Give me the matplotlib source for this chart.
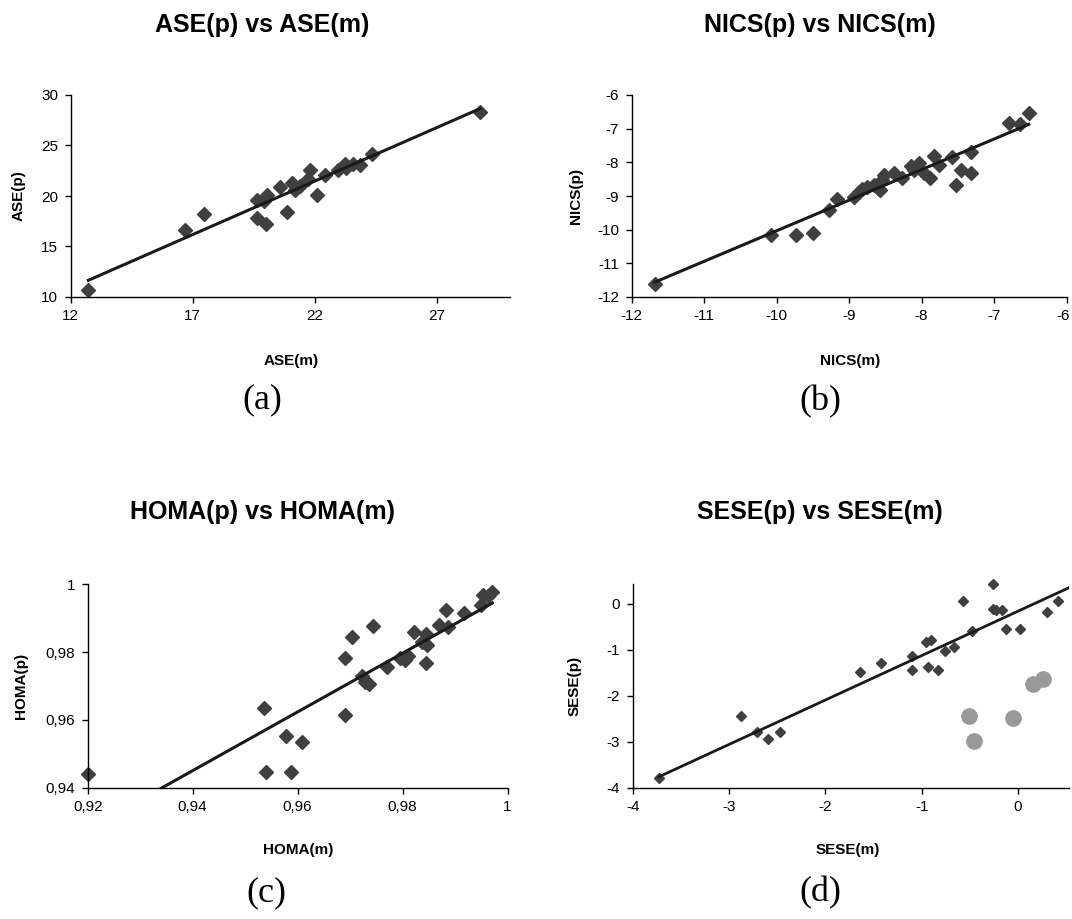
import numpy as np
import matplotlib
matplotlib.use('Agg')
import matplotlib.pyplot as plt
from matplotlib.transforms import ScaledTranslation

plt.rcParams['font.family'] = ['Liberation Sans', 'DejaVu Sans']
plt.rcParams['axes.unicode_minus'] = False

# ---------------- data ----------------
ase_m = [12.72, 16.69, 17.48, 19.62, 19.65, 19.99, 20.03, 19.90, 20.58, 20.85, 21.06, 21.19,
         21.40, 21.81, 21.74, 22.08, 22.42, 22.97, 23.24, 23.30, 23.58, 23.86, 24.34, 28.78]
ase_p = [10.73, 16.61, 18.20, 19.59, 17.83, 17.27, 20.08, 19.50, 20.90, 18.43, 21.24, 20.60,
         21.00, 22.56, 21.70, 20.08, 22.07, 22.56, 23.20, 22.80, 23.20, 23.06, 24.20, 28.35]

nics_m = [-11.68, -10.08, -9.73, -9.50, -9.28, -9.16, -8.93, -8.86, -8.82, -8.75, -8.66, -8.59,
          -8.57, -8.54, -8.52, -8.38, -8.27, -8.15, -8.10, -8.04, -7.97, -7.88, -7.83, -7.76,
          -7.58, -7.53, -7.46, -7.32, -7.32, -6.80, -6.64, -6.52]
nics_p = [-11.60, -10.17, -10.17, -10.10, -9.42, -9.10, -9.03, -8.88, -8.78, -8.73, -8.68, -8.78,
          -8.83, -8.53, -8.38, -8.31, -8.48, -8.11, -8.23, -8.01, -8.33, -8.48, -7.82, -8.08,
          -7.84, -8.68, -8.23, -8.33, -7.69, -6.84, -6.86, -6.53]

homa_m = [0.9200, 0.9535, 0.9540, 0.9578, 0.9587, 0.9609, 0.9691, 0.9691, 0.9704, 0.9723,
          0.9728, 0.9736, 0.9743, 0.9770, 0.9795, 0.9804, 0.9811, 0.9822, 0.9836, 0.9844,
          0.9847, 0.9844, 0.9869, 0.9882, 0.9887, 0.9917, 0.9950, 0.9954, 0.9963, 0.9971]
homa_p = [0.9440, 0.9635, 0.9446, 0.9553, 0.9446, 0.9533, 0.9781, 0.9614, 0.9843, 0.9729,
          0.9712, 0.9705, 0.9878, 0.9755, 0.9781, 0.9776, 0.9788, 0.9860, 0.9830, 0.9853,
          0.9821, 0.9768, 0.9880, 0.9925, 0.9875, 0.9914, 0.9939, 0.9968, 0.9964, 0.9978]

sese_m = [-3.73, -2.875, -2.706, -2.592, -2.47, -1.64, -1.425, -1.097, -1.097, -0.954, -0.906,
          -0.93, -0.833, -0.757, -0.664, -0.573, -0.48, -0.262, -0.256, -0.228, -0.162, -0.124,
          0.021, 0.305, 0.42]
sese_p = [-3.80, -2.445, -2.796, -2.94, -2.796, -1.496, -1.29, -1.146, -1.438, -0.839, -0.788,
          -1.387, -1.438, -1.036, -0.934, 0.058, -0.584, 0.416, -0.11, -0.146, -0.146, -0.547,
          -0.547, -0.18, 0.058]
sese_out_m = [-0.505, -0.453, -0.054, 0.16, 0.264]
sese_out_p = [-2.445, -2.99, -2.48, -1.75, -1.64]

# trend lines (slope, intercept)
trend_a = (1.059, -1.82)
trend_b = (0.9086, -0.948)
trend_c = (0.867, 0.130)
trend_d = (0.965, -0.165)

# ticks
ticks_a_x = [12, 17, 22, 27]
ticks_a_y = [10, 15, 20, 25, 30]
ticks_b = [-12, -11, -10, -9, -8, -7, -6]
ticks_c_x = [0.92, 0.94, 0.96, 0.98, 1.0]
labels_c_x = ['0,92', '0,94', '0,96', '0,98', '1']
ticks_c_y = [0.94, 0.96, 0.98, 1.0]
labels_c_y = ['0,94', '0,96', '0,98', '1']
ticks_d = [-4, -3, -2, -1, 0]

titles = ['ASE(p) vs ASE(m)', 'NICS(p) vs NICS(m)', 'HOMA(p) vs HOMA(m)', 'SESE(p) vs SESE(m)']
xlabels = ['ASE(m)', 'NICS(m)', 'HOMA(m)', 'SESE(m)']
ylabels = ['ASE(p)', 'NICS(p)', 'HOMA(p)', 'SESE(p)']
panel_tags = ['(a)', '(b)', '(c)', '(d)']

# ---------------- layout ----------------
W, H = 1072, 919
fig = plt.figure(figsize=(W / 100, H / 100), dpi=100)
fig.patch.set_facecolor('white')


def rect(l, r, t, b):
    return [l / W, 1 - b / H, (r - l) / W, (b - t) / H]


def fx(x):
    return x / W


def fy(y):
    return 1 - y / H


MK = '#404040'
LN = '#1a1a1a'


def style(ax):
    for s in ['top', 'right']:
        ax.spines[s].set_visible(False)
    for s in ['left', 'bottom']:
        ax.spines[s].set_color('black')
        ax.spines[s].set_linewidth(1.0)
    ax.tick_params(direction='out', length=4, width=1, labelsize=11, pad=5, colors='black')
    ax.patch.set_alpha(0)


# (a)
axa = fig.add_axes(rect(70.7, 510, 95, 297))
axa.set_xlim(12, 30)
axa.set_ylim(10, 30)
axa.set_xticks(ticks_a_x)
axa.set_yticks(ticks_a_y)
axa.plot(ase_m, ase_p, 'D', color=MK, ms=7.5, mec=MK, clip_on=False, zorder=2)
xa = np.array([min(ase_m), max(ase_m)])
axa.plot(xa, np.polyval(trend_a, xa), color=LN, lw=2.2, zorder=3)
style(axa)

# (b)
axb = fig.add_axes(rect(631.5, 1066.5, 95, 297))
axb.set_xlim(-12, -6)
axb.set_ylim(-12, -6)
axb.set_xticks(ticks_b)
axb.set_yticks(ticks_b)
axb.plot(nics_m, nics_p, 'D', color=MK, ms=7.5, mec=MK, clip_on=False, zorder=2)
xb = np.array([min(nics_m), max(nics_m)])
axb.plot(xb, np.polyval(trend_b, xb), color=LN, lw=2.2, zorder=3)
style(axb)
fig.canvas.draw()
last = axb.get_xticklabels()[-1]
last.set_transform(last.get_transform() + ScaledTranslation(-3 / 100, 0, fig.dpi_scale_trans))

# (c)
axc = fig.add_axes(rect(87.7, 507.6, 584.3, 787.5))
axc.set_xlim(0.92, 1.0)
axc.set_ylim(0.94, 1.0)
axc.set_xticks(ticks_c_x)
axc.set_xticklabels(labels_c_x)
axc.set_yticks(ticks_c_y)
axc.set_yticklabels(labels_c_y)
axc.plot(homa_m, homa_p, 'D', color=MK, ms=7.5, mec=MK, clip_on=False, zorder=2)
xc = np.linspace(min(homa_m), max(homa_m), 50)
axc.plot(xc, np.polyval(trend_c, xc), color=LN, lw=2.2, zorder=3)
style(axc)

# (d)
axd = fig.add_axes(rect(632.7, 1069, 584.3, 787.7))
axd.set_xlim(-4, 0.53)
axd.set_ylim(-4, 0.42)
axd.set_xticks(ticks_d)
axd.set_yticks(ticks_d)
axd.plot(sese_out_m, sese_out_p, 'o', color='#999999', ms=11, mec='#999999', clip_on=False, zorder=2)
axd.plot(sese_m, sese_p, 'D', color=MK, ms=5.2, mec=MK, clip_on=False, zorder=2)
xd = np.array([min(sese_m), 0.53])
axd.plot(xd, np.polyval(trend_d, xd), color=LN, lw=2.0, zorder=3)
style(axd)

# ---------------- texts ----------------
title_pos = [(262, 25), (820, 25), (263, 512), (820, 512)]
xlabel_pos = [(291, 361), (850, 361), (298, 850), (848, 850)]
ylabel_pos = [(19, 196), (576, 196), (21, 686), (575, 686)]
tag_pos = [(262, 400), (820, 402), (266, 893), (820, 893)]

for i in range(4):
    fig.text(fx(title_pos[i][0]), fy(title_pos[i][1]), titles[i], ha='center', va='center',
             fontsize=18, fontweight='bold')
    fig.text(fx(xlabel_pos[i][0]), fy(xlabel_pos[i][1]), xlabels[i], ha='center', va='center',
             fontsize=11, fontweight='bold')
    fig.text(fx(ylabel_pos[i][0]), fy(ylabel_pos[i][1]), ylabels[i], ha='center', va='center',
             fontsize=11, fontweight='bold', rotation=90)
    fig.text(fx(tag_pos[i][0]), fy(tag_pos[i][1]), panel_tags[i], ha='center', va='center',
             fontsize=26, family='Liberation Serif')

fig.savefig('out.png', dpi=100, facecolor='white')
